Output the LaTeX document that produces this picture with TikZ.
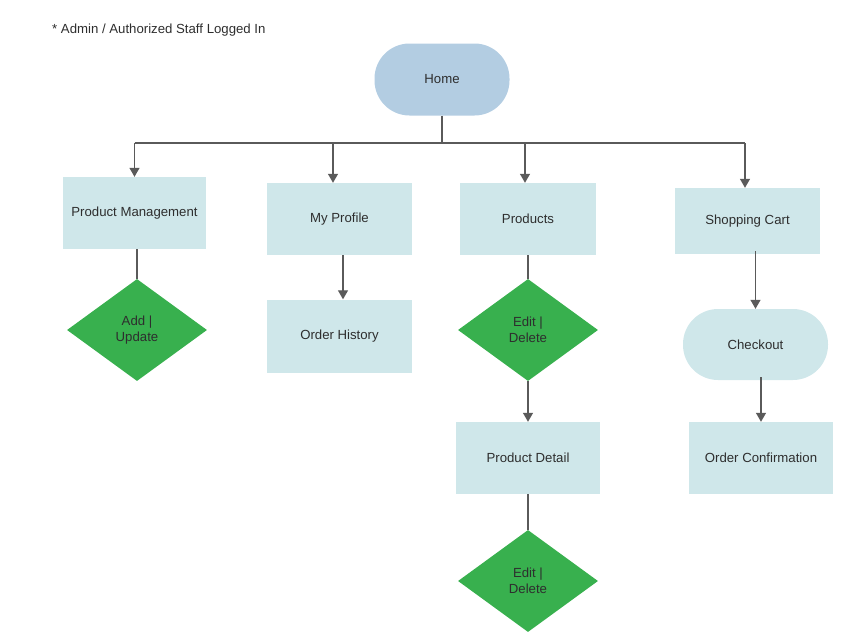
\documentclass[tikz,border=0pt]{standalone}
\usepackage{fontspec}
\setmainfont{Liberation Sans}
\usetikzlibrary{shapes.geometric,arrows.meta}
\definecolor{homec}{HTML}{B3CDE2}
\definecolor{boxc}{HTML}{CFE7EA}
\definecolor{grn}{HTML}{38B04E}
\definecolor{linec}{HTML}{5A5A5A}
\definecolor{txt}{HTML}{2E2E2E}
\tikzset{
  base/.style={inner sep=0pt, text=txt, font=\fontsize{13.2}{15.5}\selectfont, align=center},
  pagebox/.style={base, rectangle, fill=boxc, minimum width=#1, minimum height=72},
  pill/.style={base, rectangle, rounded corners=35, minimum height=72},
  choice/.style={base, diamond, fill=grn, minimum width=140, minimum height=102, aspect=1.37},
  conn/.style={draw=linec, line width=1.2pt},
  arr/.style={conn, -{Triangle[width=10pt,length=9pt]}}
}
\begin{document}
\begin{tikzpicture}[x=1pt,y=-1pt]
\useasboundingbox (0,0) rectangle (860,643);
\node[anchor=west, text=txt, font=\fontsize{13.2}{15}\selectfont, inner sep=0pt] (note) at (52,30) {* Admin / Authorized Staff Logged In};
\node[pill, fill=homec, minimum width=135] (home) at (442,79.5) {Home};
\node[pagebox=143] (pm) at (134.5,213) {Product Management};
\node[pagebox=145] (prof) at (339.5,219) {My Profile};
\node[pagebox=136] (prod) at (528,219) {Products};
\node[pagebox=145, minimum height=66] (cart) at (747.5,221) {Shopping Cart};
\node[choice] (addupd) at (137,330) {Add |\\Update};
\node[pagebox=145, minimum height=73] (hist) at (339.5,336) {Order History};
\node[choice] (ed1) at (528,330) {Edit |\\Delete};
\node[pagebox=144] (detail) at (528,458) {Product Detail};
\node[choice] (ed2) at (528,581) {Edit |\\Delete};
\node[pill, fill=boxc, minimum width=145, minimum height=71] (chk) at (755.5,344.5) {Checkout};
\node[pagebox=144] (conf) at (761,458) {Order Confirmation};
% bus
\coordinate (bus) at (442,143);
\coordinate (b1) at (134.5,143);
\coordinate (b2) at (333,143);
\coordinate (b3) at (525,143);
\coordinate (b4) at (745,143);
\draw[conn] (home.south) -- (bus);
\draw[conn] (b1) -- (b4);
\draw[arr] (b1) -- (b1 |- pm.north);
\draw[arr] (b2) -- (b2 |- prof.north);
\draw[arr] (b3) -- (b3 |- prod.north);
\draw[arr] (b4) -- (b4 |- cart.north);
% branches
\draw[conn] (addupd.north |- pm.south) -- (addupd.north);
\draw[arr] ([xshift=3.5]prof.south) -- ([xshift=3.5]prof.south |- hist.north);
\draw[conn] (prod.south) -- (ed1.north);
\draw[arr] (ed1.south) -- (detail.north);
\draw[conn] (detail.south) -- (ed2.north);
\draw[arr] ([yshift=3]chk.north |- cart.south) -- (chk.north);
\draw[arr] ([yshift=3]conf.north |- chk.south) -- (conf.north);
\end{tikzpicture}
\end{document}
